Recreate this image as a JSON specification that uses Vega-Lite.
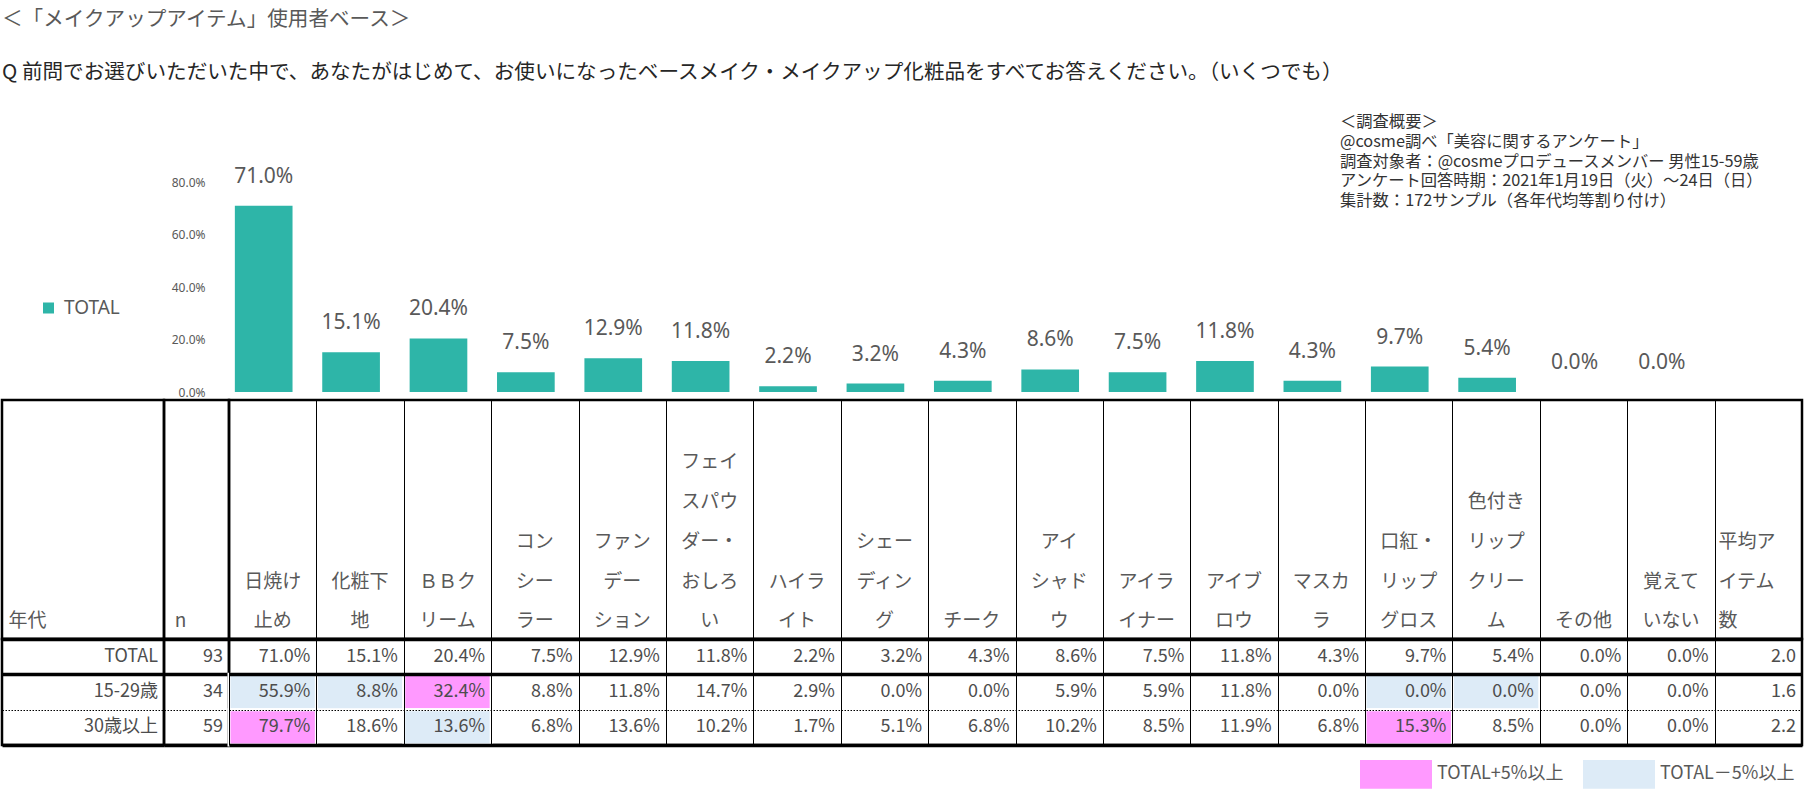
{
"$schema": "https://vega.github.io/schema/vega-lite/v6.json",
"background": "white",
"padding": {"left": 0, "top": 10, "right": 4, "bottom": 0},
"config": {"font": "Noto Sans CJK JP", "view": {"stroke": null}},
"title": {"text": "＜「メイクアップアイテム」使用者ベース＞", "subtitle": "Q 前問でお選びいただいた中で、あなたがはじめて、お使いになったベースメイク・メイクアップ化粧品をすべてお答えください。（いくつでも）", "anchor": "start", "frame": "group", "fontSize": 20.6, "fontWeight": "normal", "color": "#595959", "subtitleFontSize": 20.6, "subtitleColor": "#262626", "subtitlePadding": 32, "offset": 30.5},
"datasets": {
"cells": [
{"age":"TOTAL","item":"日焼け止め","value":0.710},
{"age":"TOTAL","item":"化粧下地","value":0.151},
{"age":"TOTAL","item":"ＢＢクリーム","value":0.204},
{"age":"TOTAL","item":"コンシーラー","value":0.075},
{"age":"TOTAL","item":"ファンデーション","value":0.129},
{"age":"TOTAL","item":"フェイスパウダー・おしろい","value":0.118},
{"age":"TOTAL","item":"ハイライト","value":0.022},
{"age":"TOTAL","item":"シェーディング","value":0.032},
{"age":"TOTAL","item":"チーク","value":0.043},
{"age":"TOTAL","item":"アイシャドウ","value":0.086},
{"age":"TOTAL","item":"アイライナー","value":0.075},
{"age":"TOTAL","item":"アイブロウ","value":0.118},
{"age":"TOTAL","item":"マスカラ","value":0.043},
{"age":"TOTAL","item":"口紅・リップグロス","value":0.097},
{"age":"TOTAL","item":"色付きリップクリーム","value":0.054},
{"age":"TOTAL","item":"その他","value":0.0},
{"age":"TOTAL","item":"覚えていない","value":0.0},
{"age":"TOTAL","item":"平均アイテム数","value":2.0},
{"age":"15-29歳","item":"日焼け止め","value":0.559,"flag":"TOTAL－5%以上"},
{"age":"15-29歳","item":"化粧下地","value":0.088,"flag":"TOTAL－5%以上"},
{"age":"15-29歳","item":"ＢＢクリーム","value":0.324,"flag":"TOTAL+5%以上"},
{"age":"15-29歳","item":"コンシーラー","value":0.088},
{"age":"15-29歳","item":"ファンデーション","value":0.118},
{"age":"15-29歳","item":"フェイスパウダー・おしろい","value":0.147},
{"age":"15-29歳","item":"ハイライト","value":0.029},
{"age":"15-29歳","item":"シェーディング","value":0.0},
{"age":"15-29歳","item":"チーク","value":0.0},
{"age":"15-29歳","item":"アイシャドウ","value":0.059},
{"age":"15-29歳","item":"アイライナー","value":0.059},
{"age":"15-29歳","item":"アイブロウ","value":0.118},
{"age":"15-29歳","item":"マスカラ","value":0.0},
{"age":"15-29歳","item":"口紅・リップグロス","value":0.0,"flag":"TOTAL－5%以上"},
{"age":"15-29歳","item":"色付きリップクリーム","value":0.0,"flag":"TOTAL－5%以上"},
{"age":"15-29歳","item":"その他","value":0.0},
{"age":"15-29歳","item":"覚えていない","value":0.0},
{"age":"15-29歳","item":"平均アイテム数","value":1.6},
{"age":"30歳以上","item":"日焼け止め","value":0.797,"flag":"TOTAL+5%以上"},
{"age":"30歳以上","item":"化粧下地","value":0.186},
{"age":"30歳以上","item":"ＢＢクリーム","value":0.136,"flag":"TOTAL－5%以上"},
{"age":"30歳以上","item":"コンシーラー","value":0.068},
{"age":"30歳以上","item":"ファンデーション","value":0.136},
{"age":"30歳以上","item":"フェイスパウダー・おしろい","value":0.102},
{"age":"30歳以上","item":"ハイライト","value":0.017},
{"age":"30歳以上","item":"シェーディング","value":0.051},
{"age":"30歳以上","item":"チーク","value":0.068},
{"age":"30歳以上","item":"アイシャドウ","value":0.102},
{"age":"30歳以上","item":"アイライナー","value":0.085},
{"age":"30歳以上","item":"アイブロウ","value":0.119},
{"age":"30歳以上","item":"マスカラ","value":0.068},
{"age":"30歳以上","item":"口紅・リップグロス","value":0.153,"flag":"TOTAL+5%以上"},
{"age":"30歳以上","item":"色付きリップクリーム","value":0.085},
{"age":"30歳以上","item":"その他","value":0.0},
{"age":"30歳以上","item":"覚えていない","value":0.0},
{"age":"30歳以上","item":"平均アイテム数","value":2.2}
],
"hlines": [
{"group":"age","item":"年代","line":0,"text":"年代"},
{"group":"n","item":"n","line":0,"text":"n"},
{"group":"item","item":"日焼け止め","line":1,"text":"日焼け"},
{"group":"item","item":"日焼け止め","line":0,"text":"止め"},
{"group":"item","item":"化粧下地","line":1,"text":"化粧下"},
{"group":"item","item":"化粧下地","line":0,"text":"地"},
{"group":"item","item":"ＢＢクリーム","line":1,"text":"ＢＢク"},
{"group":"item","item":"ＢＢクリーム","line":0,"text":"リーム"},
{"group":"item","item":"コンシーラー","line":2,"text":"コン"},
{"group":"item","item":"コンシーラー","line":1,"text":"シー"},
{"group":"item","item":"コンシーラー","line":0,"text":"ラー"},
{"group":"item","item":"ファンデーション","line":2,"text":"ファン"},
{"group":"item","item":"ファンデーション","line":1,"text":"デー"},
{"group":"item","item":"ファンデーション","line":0,"text":"ション"},
{"group":"item","item":"フェイスパウダー・おしろい","line":4,"text":"フェイ"},
{"group":"item","item":"フェイスパウダー・おしろい","line":3,"text":"スパウ"},
{"group":"item","item":"フェイスパウダー・おしろい","line":2,"text":"ダー・"},
{"group":"item","item":"フェイスパウダー・おしろい","line":1,"text":"おしろ"},
{"group":"item","item":"フェイスパウダー・おしろい","line":0,"text":"い"},
{"group":"item","item":"ハイライト","line":1,"text":"ハイラ"},
{"group":"item","item":"ハイライト","line":0,"text":"イト"},
{"group":"item","item":"シェーディング","line":2,"text":"シェー"},
{"group":"item","item":"シェーディング","line":1,"text":"ディン"},
{"group":"item","item":"シェーディング","line":0,"text":"グ"},
{"group":"item","item":"チーク","line":0,"text":"チーク"},
{"group":"item","item":"アイシャドウ","line":2,"text":"アイ"},
{"group":"item","item":"アイシャドウ","line":1,"text":"シャド"},
{"group":"item","item":"アイシャドウ","line":0,"text":"ウ"},
{"group":"item","item":"アイライナー","line":1,"text":"アイラ"},
{"group":"item","item":"アイライナー","line":0,"text":"イナー"},
{"group":"item","item":"アイブロウ","line":1,"text":"アイブ"},
{"group":"item","item":"アイブロウ","line":0,"text":"ロウ"},
{"group":"item","item":"マスカラ","line":1,"text":"マスカ"},
{"group":"item","item":"マスカラ","line":0,"text":"ラ"},
{"group":"item","item":"口紅・リップグロス","line":2,"text":"口紅・"},
{"group":"item","item":"口紅・リップグロス","line":1,"text":"リップ"},
{"group":"item","item":"口紅・リップグロス","line":0,"text":"グロス"},
{"group":"item","item":"色付きリップクリーム","line":3,"text":"色付き"},
{"group":"item","item":"色付きリップクリーム","line":2,"text":"リップ"},
{"group":"item","item":"色付きリップクリーム","line":1,"text":"クリー"},
{"group":"item","item":"色付きリップクリーム","line":0,"text":"ム"},
{"group":"item","item":"その他","line":0,"text":"その他"},
{"group":"item","item":"覚えていない","line":1,"text":"覚えて"},
{"group":"item","item":"覚えていない","line":0,"text":"いない"},
{"group":"avg","item":"平均アイテム数","line":2,"text":"平均ア"},
{"group":"avg","item":"平均アイテム数","line":1,"text":"イテム"},
{"group":"avg","item":"平均アイテム数","line":0,"text":"数"}
],
"rows": [{"age":"TOTAL","n":93},{"age":"15-29歳","n":34},{"age":"30歳以上","n":59}]
},
"columns": 3,
"align": "each",
"bounds": "flush",
"spacing": 0,
"resolve": {"scale": {"color": "independent", "fill": "independent"}, "legend": {"color": "independent", "fill": "independent"}},
"concat": [
{"width": 162, "height": 218, "data": {"values": []}, "mark": "point"},
{"width": 65, "height": 218, "data": {"values": []}, "mark": "point"},
{
 "width": 1573, "height": 218,
 "data": {"name": "cells"},
 "transform": [{"filter": "datum.age === 'TOTAL' && datum.item !== '平均アイテム数'"}],
 "title": {"text": ["＜調査概要＞", "@cosme調べ「美容に関するアンケート」", "調査対象者：@cosmeプロデュースメンバー 男性15-59歳", "アンケート回答時期：2021年1月19日（火）～24日（日）", "集計数：172サンプル（各年代均等割り付け）"], "anchor": "start", "frame": "group", "dx": 1111, "offset": -44, "fontSize": 16.3, "fontWeight": "normal", "color": "#333333", "lineHeight": 19.9},
 "encoding": {
  "x": {"field": "item", "type": "nominal", "sort": null, "axis": null, "scale": {"type": "band", "domain": ["日焼け止め","化粧下地","ＢＢクリーム","コンシーラー","ファンデーション","フェイスパウダー・おしろい","ハイライト","シェーディング","チーク","アイシャドウ","アイライナー","アイブロウ","マスカラ","口紅・リップグロス","色付きリップクリーム","その他","覚えていない","平均アイテム数"], "paddingInner": 0, "paddingOuter": 0}},
  "y": {"field": "value", "type": "quantitative", "scale": {"domain": [-0.030476, 0.8], "nice": false, "zero": false}, "axis": {"title": null, "values": [0, 0.2, 0.4, 0.6, 0.8], "format": ".1%", "domain": false, "ticks": false, "grid": false, "labelFont": "Noto Sans", "labelFontSize": 12, "labelColor": "#595959", "labelPadding": 7, "offset": 17}}
 },
 "layer": [
  {"mark": {"type": "bar", "width": {"band": 0.66}, "xOffset": -9},
   "encoding": {"color": {"field": "age", "type": "nominal", "scale": {"range": ["#2EB5A8"]}, "legend": {"orient": "none", "legendX": -190, "legendY": 116.5, "title": null, "symbolType": "square", "symbolSize": 121, "symbolStrokeWidth": 0, "labelFontSize": 19, "labelFont": "Noto Sans", "labelColor": "#595959", "labelOffset": 6, "padding": 0}}}},
  {"mark": {"type": "text", "dy": -29, "xOffset": -9, "fontSize": 21, "font": "Noto Sans", "color": "#595959"},
   "encoding": {"text": {"field": "value", "type": "quantitative", "format": ".1%"}}}
 ]
},
{"width": 162, "height": 239, "view": {"stroke": "#000", "strokeWidth": 2.5},
 "data": {"name": "hlines"}, "transform": [{"filter": "datum.group === 'age'"}],
 "mark": {"type": "text", "align": "left", "baseline": "middle", "dx": 5, "fontSize": 19, "color": "#595959"},
 "encoding": {"x": {"field": "item", "type": "nominal", "axis": null, "scale": {"type": "band", "paddingInner": 0, "paddingOuter": 0}, "bandPosition": 0.01},
  "y": {"field": "line", "type": "ordinal", "sort": null, "axis": null, "scale": {"type": "point", "domain": [4, 3, 2, 1, 0], "padding": 1.439, "align": 0.78}},
  "text": {"field": "text"}}},
{"width": 65, "height": 239, "view": {"stroke": "#000", "strokeWidth": 2.5},
 "data": {"name": "hlines"}, "transform": [{"filter": "datum.group === 'n'"}],
 "mark": {"type": "text", "align": "left", "baseline": "middle", "dx": 10, "fontSize": 19, "color": "#595959"},
 "encoding": {"x": {"field": "item", "type": "nominal", "axis": null, "scale": {"type": "band", "paddingInner": 0, "paddingOuter": 0}, "bandPosition": 0.01},
  "y": {"field": "line", "type": "ordinal", "sort": null, "axis": null, "scale": {"type": "point", "domain": [4, 3, 2, 1, 0], "padding": 1.439, "align": 0.78}},
  "text": {"field": "text"}}},
{"width": 1573, "height": 239, "view": {"stroke": "#000", "strokeWidth": 2.5},
 "data": {"name": "hlines"}, "transform": [{"filter": "datum.group === 'item' || datum.group === 'avg'"}],
 "encoding": {
  "x": {"field": "item", "type": "nominal", "sort": null, "scale": {"type": "band", "domain": ["日焼け止め","化粧下地","ＢＢクリーム","コンシーラー","ファンデーション","フェイスパウダー・おしろい","ハイライト","シェーディング","チーク","アイシャドウ","アイライナー","アイブロウ","マスカラ","口紅・リップグロス","色付きリップクリーム","その他","覚えていない","平均アイテム数"], "paddingInner": 0, "paddingOuter": 0}, "axis": {"title": null, "labels": false, "ticks": false, "domain": false, "grid": true, "zindex": 1, "tickBand": "extent", "gridColor": "#000", "gridWidth": 1}},
  "y": {"field": "line", "type": "ordinal", "sort": null, "axis": null, "scale": {"type": "point", "domain": [4, 3, 2, 1, 0], "padding": 1.439, "align": 0.78}},
  "text": {"field": "text"}
 },
 "layer": [
  {"transform": [{"filter": "datum.group === 'item'"}],
   "mark": {"type": "text", "align": "center", "baseline": "middle", "fontSize": 19, "color": "#595959"}},
  {"transform": [{"filter": "datum.group === 'avg'"}],
   "mark": {"type": "text", "align": "left", "baseline": "middle", "dx": 3, "fontSize": 19, "color": "#595959"},
   "encoding": {"x": {"field": "item", "type": "nominal", "sort": null, "bandPosition": 0.01}}}
 ]},
{"width": 162, "height": 106, "view": {"stroke": "#000", "strokeWidth": 2.5},
 "data": {"name": "rows"},
 "mark": {"type": "text", "align": "right", "baseline": "middle", "dx": -6, "fontSize": 18, "color": "#4d4d4d"},
 "encoding": {"x": {"value": "width"}, "y": {"field": "age", "type": "nominal", "sort": null, "scale": {"type": "band", "domain": ["TOTAL","15-29歳","30歳以上"], "paddingInner": 0, "paddingOuter": 0}, "axis": {"title": null, "labels": false, "ticks": false, "domain": false, "grid": true, "zindex": 1, "tickBand": "extent", "gridColor": "#000", "gridWidth": {"condition": {"test": "datum.value === '15-29歳'", "value": 1}, "value": 3.5}, "gridDash": {"condition": {"test": "datum.value === '15-29歳'", "value": [1.5, 1.5]}, "value": []}}}, "text": {"field": "age"}}},
{"width": 65, "height": 106, "view": {"stroke": "#000", "strokeWidth": 2.5},
 "data": {"name": "rows"},
 "mark": {"type": "text", "align": "right", "baseline": "middle", "dx": -6, "fontSize": 18, "color": "#4d4d4d"},
 "encoding": {"x": {"value": "width"}, "y": {"field": "age", "type": "nominal", "sort": null, "scale": {"type": "band", "domain": ["TOTAL","15-29歳","30歳以上"], "paddingInner": 0, "paddingOuter": 0}, "axis": {"title": null, "labels": false, "ticks": false, "domain": false, "grid": true, "zindex": 1, "tickBand": "extent", "gridColor": "#000", "gridWidth": {"condition": {"test": "datum.value === '15-29歳'", "value": 1}, "value": 3.5}, "gridDash": {"condition": {"test": "datum.value === '15-29歳'", "value": [1.5, 1.5]}, "value": []}}}, "text": {"field": "n", "type": "quantitative"}}},
{"width": 1573, "height": 106, "view": {"stroke": "#000", "strokeWidth": 2.5},
 "data": {"name": "cells"},
 "encoding": {
  "x": {"field": "item", "type": "nominal", "sort": null, "scale": {"type": "band", "domain": ["日焼け止め","化粧下地","ＢＢクリーム","コンシーラー","ファンデーション","フェイスパウダー・おしろい","ハイライト","シェーディング","チーク","アイシャドウ","アイライナー","アイブロウ","マスカラ","口紅・リップグロス","色付きリップクリーム","その他","覚えていない","平均アイテム数"], "paddingInner": 0, "paddingOuter": 0}, "axis": {"title": null, "labels": false, "ticks": false, "domain": false, "grid": true, "zindex": 1, "tickBand": "extent", "gridColor": "#000", "gridWidth": 1}},
  "y": {"field": "age", "type": "nominal", "sort": null, "scale": {"type": "band", "domain": ["TOTAL","15-29歳","30歳以上"], "paddingInner": 0, "paddingOuter": 0}, "axis": {"title": null, "labels": false, "ticks": false, "domain": false, "grid": true, "zindex": 1, "tickBand": "extent", "gridColor": "#000", "gridWidth": {"condition": {"test": "datum.value === '15-29歳'", "value": 1}, "value": 3.5}, "gridDash": {"condition": {"test": "datum.value === '15-29歳'", "value": [1.5, 1.5]}, "value": []}}}
 },
 "layer": [
  {"transform": [{"filter": "isValid(datum.flag)"}],
   "mark": {"type": "rect", "stroke": "white", "strokeWidth": 3},
   "encoding": {"fill": {"field": "flag", "type": "nominal", "scale": {"domain": ["TOTAL+5%以上", "TOTAL－5%以上"], "range": ["#FF99FF", "#DDEBF7"]}, "legend": {"orient": "none", "legendX": 1138, "legendY": 106, "direction": "horizontal", "columns": 2, "title": null, "symbolType": "M-1.25,-0.5H1.25V0.5H-1.25Z", "symbolSize": 3318, "symbolStrokeWidth": 0, "symbolOpacity": 1, "labelFontSize": 18, "labelColor": "#595959", "labelOffset": 12, "columnPadding": 18, "padding": 0}}}},
  {"transform": [{"filter": "datum.item !== '平均アイテム数'"}],
   "mark": {"type": "text", "align": "right", "baseline": "middle", "dx": -6, "fontSize": 18, "color": "#4d4d4d"},
   "encoding": {"x": {"field": "item", "type": "nominal", "sort": null, "bandPosition": 1}, "text": {"field": "value", "type": "quantitative", "format": ".1%"}}},
  {"transform": [{"filter": "datum.item === '平均アイテム数'"}],
   "mark": {"type": "text", "align": "right", "baseline": "middle", "dx": -6, "fontSize": 18, "color": "#4d4d4d"},
   "encoding": {"x": {"field": "item", "type": "nominal", "sort": null, "bandPosition": 1}, "text": {"field": "value", "type": "quantitative", "format": ".1f"}}}
 ]}
]
}
